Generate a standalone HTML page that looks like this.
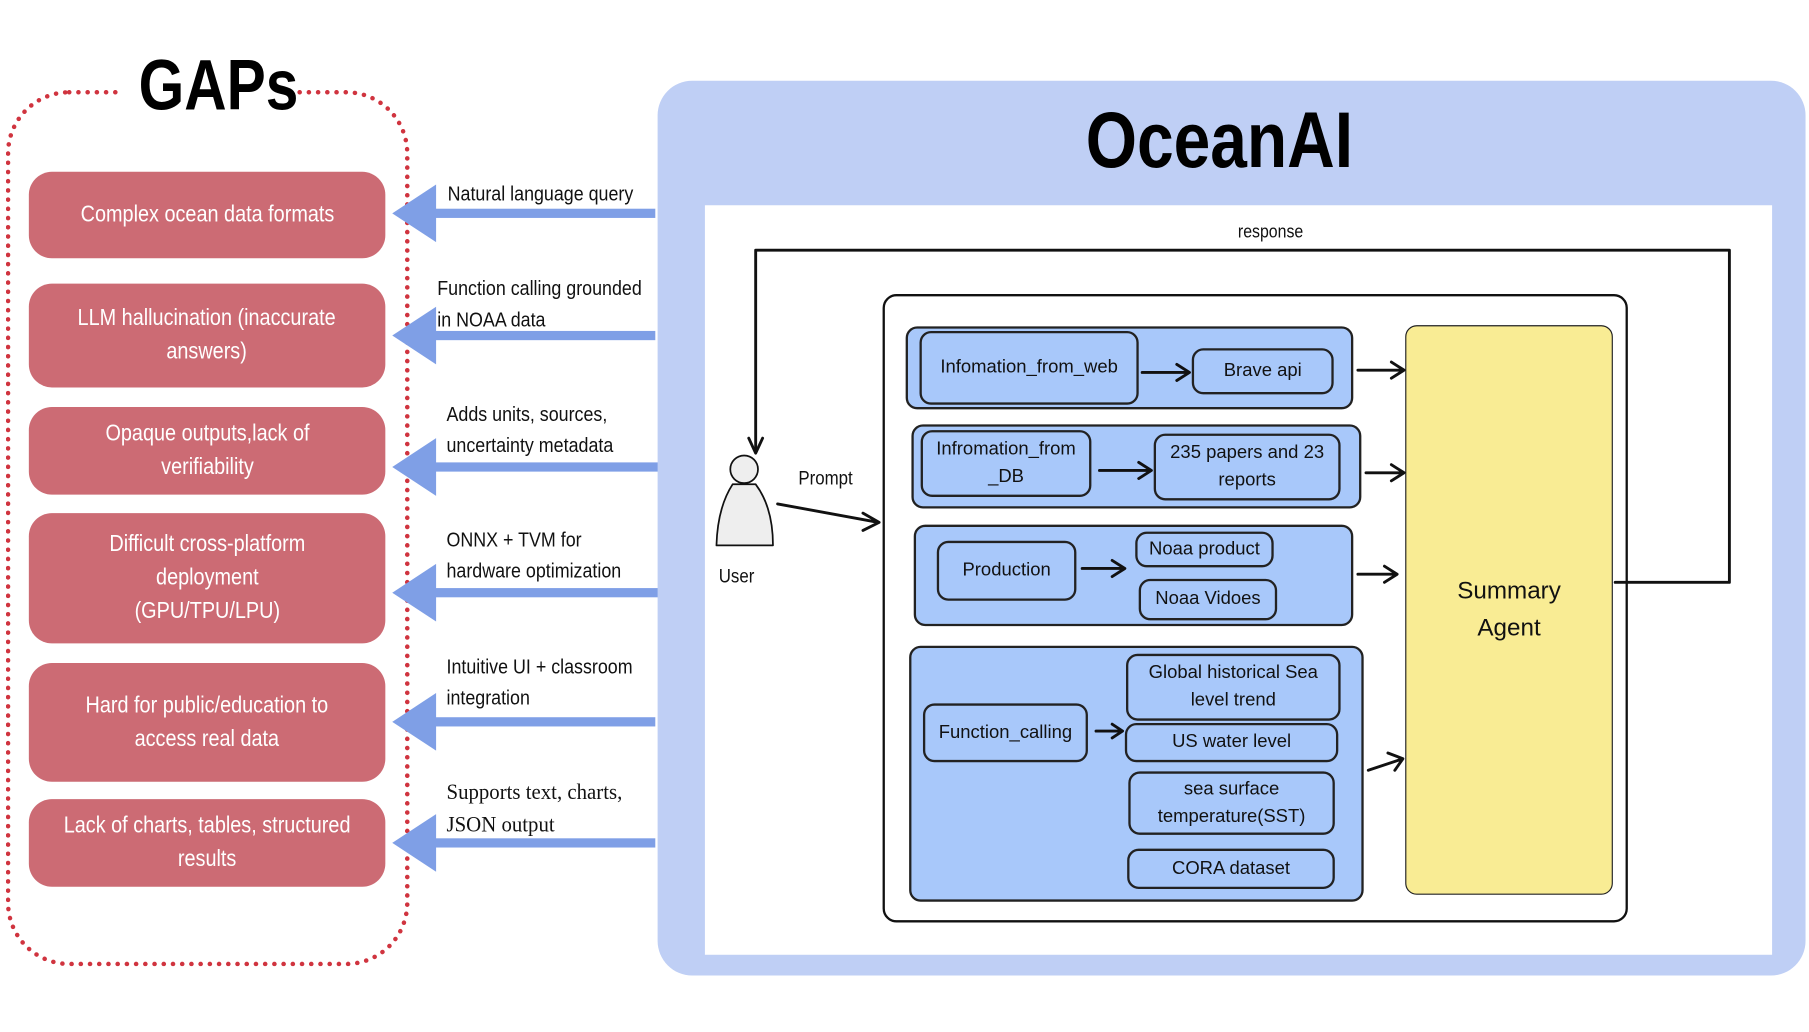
<!DOCTYPE html>
<html><head><meta charset="utf-8"><style>
html,body{margin:0;padding:0;background:#fff;overflow:hidden}
#w{position:absolute;left:0;top:0;width:1568px;height:895px;transform:scale(1.1537,1.1531);transform-origin:0 0;font-family:"Liberation Sans",sans-serif}
.a{position:absolute}
.red{position:absolute;left:25px;width:309px;background:#cc6b74;border-radius:20px;color:#fff;font-size:20px;display:flex;align-items:center;justify-content:center;text-align:center;line-height:29px}
.red span{display:inline-block;transform:scaleX(.86);white-space:nowrap}
.lab{position:absolute;font-size:18px;line-height:27px;color:#111;transform:scaleX(.86);transform-origin:0 0;white-space:nowrap}
.b{position:absolute;border:2px solid #222;border-radius:10px;display:flex;align-items:center;justify-content:center;text-align:center;font-size:16px;line-height:24px;color:#111;box-sizing:border-box;white-space:nowrap}
.g{background:#a8c8fa}
</style></head><body><div id="w">
<div class="a" style="left:5px;top:78px;width:350px;height:760px;border:4px dotted #d0343f;border-radius:55px;box-sizing:border-box"></div>
<div class="a" style="left:105px;top:40px;width:150px;height:70px;background:#fff;text-align:center;font-weight:bold;font-size:62px;line-height:70px"><span style="display:inline-block;transform:scaleX(.82)">GAPs</span></div>
<div class="red" style="top:149px;height:75px"><span>Complex ocean data formats</span></div>
<div class="red" style="top:246px;height:90px"><span>LLM hallucination (inaccurate<br>answers)</span></div>
<div class="red" style="top:353px;height:76px"><span>Opaque outputs,lack of<br>verifiability</span></div>
<div class="red" style="top:445px;height:113px"><span>Difficult cross-platform<br>deployment<br>(GPU/TPU/LPU)</span></div>
<div class="red" style="top:575px;height:103px"><span>Hard for public/education to<br>access real data</span></div>
<div class="red" style="top:693px;height:76px"><span>Lack of charts, tables, structured<br>results</span></div>
<svg class="a" style="left:0;top:0" width="1568" height="895">
<g fill="#7f9fe6">
<rect x="375" y="181" width="193" height="8"/><polygon points="340,185 378,160 378,210"/>
<rect x="375" y="287" width="193" height="8"/><polygon points="340,291 378,266 378,316"/>
<rect x="375" y="401" width="197" height="8"/><polygon points="340,405 378,380 378,430"/>
<rect x="375" y="510" width="197" height="8"/><polygon points="340,514 378,489 378,539"/>
<rect x="375" y="622" width="193" height="8"/><polygon points="340,626 378,601 378,651"/>
<rect x="375" y="727" width="193" height="8"/><polygon points="340,731 378,706 378,756"/>
</g>
</svg>
<div class="lab" style="left:388px;top:155px">Natural language query</div>
<div class="lab" style="left:379px;top:237px">Function calling grounded<br>in NOAA data</div>
<div class="lab" style="left:387px;top:346px">Adds units, sources,<br>uncertainty metadata</div>
<div class="lab" style="left:387px;top:455px">ONNX + TVM for<br>hardware optimization</div>
<div class="lab" style="left:387px;top:565px">Intuitive UI + classroom<br>integration</div>
<div class="lab" style="left:387px;top:674px;font-family:'Liberation Serif',serif;font-size:19px;line-height:28px;transform:scaleX(.95)">Supports text, charts,<br>JSON output</div>
<div class="a" style="left:570px;top:70px;width:995px;height:776px;background:#bfcff5;border-radius:30px"></div>
<div class="a" style="left:850px;top:82px;width:414px;text-align:center;font-weight:bold;font-size:68px;line-height:80px"><span style="display:inline-block;transform:scaleX(.84)">OceanAI</span></div>
<div class="a" style="left:611px;top:178px;width:925px;height:650px;background:#fff"></div>
<div class="a" style="left:765px;top:255px;width:646px;height:545px;border:2.5px solid #111;border-radius:12px;box-sizing:border-box"></div>
<div class="b g" style="left:785px;top:283px;width:388px;height:72px"></div>
<div class="b g" style="left:797px;top:287px;width:190px;height:64px">Infomation_from_web</div>
<div class="b g" style="left:1033px;top:302px;width:123px;height:40px">Brave api</div>
<div class="b g" style="left:790px;top:368px;width:390px;height:73px"></div>
<div class="b g" style="left:798px;top:373px;width:148px;height:58px">Infromation_from<br>_DB</div>
<div class="b g" style="left:1000px;top:376px;width:162px;height:58px">235 papers and 23<br>reports</div>
<div class="b g" style="left:792px;top:455px;width:381px;height:88px"></div>
<div class="b g" style="left:812px;top:469px;width:121px;height:52px">Production</div>
<div class="b g" style="left:984px;top:461px;width:120px;height:31px">Noaa product</div>
<div class="b g" style="left:987px;top:502px;width:120px;height:36px">Noaa Vidoes</div>
<div class="b g" style="left:788px;top:560px;width:394px;height:222px"></div>
<div class="b g" style="left:800px;top:610px;width:143px;height:51px">Function_calling</div>
<div class="b g" style="left:976px;top:567px;width:186px;height:58px">Global historical Sea<br>level trend</div>
<div class="b g" style="left:975px;top:627px;width:185px;height:34px">US water level</div>
<div class="b g" style="left:978px;top:669px;width:179px;height:55px">sea surface<br>temperature(SST)</div>
<div class="b g" style="left:977px;top:736px;width:180px;height:35px">CORA dataset</div>
<div class="b" style="left:1218px;top:282px;width:180px;height:494px;background:#f9ec94;font-size:21px;line-height:32px;border-width:1.5px">Summary<br>Agent</div>
<svg class="a" style="left:0;top:0" width="1568" height="895" fill="none" stroke="#111" stroke-width="2.5" stroke-linecap="round" stroke-linejoin="round">
<path d="M655 392 V217 H1499 V505 H1400"/>
<path d="M649 380 L655 393 L661 380"/>
<path d="M990 323 H1030 M1020 316 L1031 323 L1020 330"/>
<path d="M953 408 H997 M987 401 L998 408 L987 415"/>
<path d="M938 493 H974 M964 486 L975 493 L964 500"/>
<path d="M950 634 H972 M964 628 L973 634 L964 640"/>
<path d="M1177 321 H1216 M1206 314 L1217 321 L1206 328"/>
<path d="M1184 410 H1216 M1206 403 L1217 410 L1206 417"/>
<path d="M1177 498 H1210 M1200 491 L1211 498 L1200 505"/>
<path d="M1186 668 L1216 658 M1203 653 L1216 658 L1209 668"/>
<path d="M674 437 L761 453 M748 445 L762 453 L748 460"/>
<circle cx="645" cy="407" r="12" fill="#eee" stroke-width="1.5"/>
<path d="M635 420 Q622 440 621 473 H670 Q670 440 655 420 Z" fill="#eee" stroke-width="1.5"/>
</svg>
<div class="lab" style="left:1073px;top:190px;font-size:16px;line-height:24px">response</div>
<div class="lab" style="left:692px;top:403px;font-size:17px;line-height:24px">Prompt</div>
<div class="lab" style="left:623px;top:488px;font-size:17px;line-height:24px">User</div>
</div></body></html>
